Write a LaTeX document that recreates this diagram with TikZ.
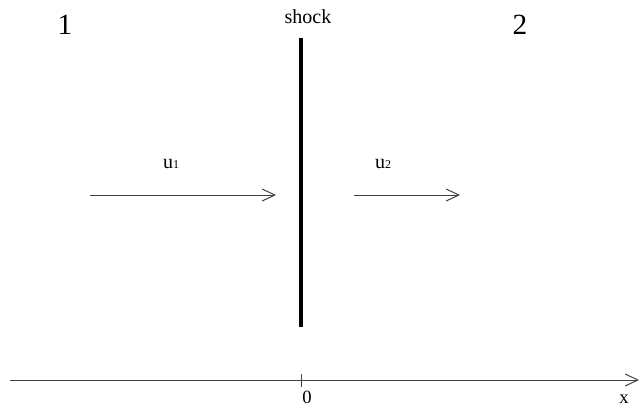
\documentclass[tikz,border=0pt]{standalone}
\usepackage{fontspec}
\setmainfont{Liberation Serif}
\usetikzlibrary{arrows.meta}

\begin{document}
\begin{tikzpicture}[
x=0.75pt, y=-0.75pt,
every node/.style={inner sep=0pt, font=\fontsize{15}{18}\selectfont},
region/.style={font=\fontsize{22}{26}\selectfont},
arrow/.style={-{Straight Barb[length=9.5pt,width=9pt]}, line width=0.75pt, draw=black!75},
shockline/.style={line width=2.3pt}
]

\useasboundingbox (0,0) rectangle (640,412);

% =====================================================
% Labels
% =====================================================

\node (left) [region] at (65,25) {1};

\node (right) [region] at (520,25) {2};

\node (shock) at (308,17) {shock};

\node (uone) at (171,164) {u{\fontsize{9}{10}\selectfont 1}};

\node (utwo) at (383,164) {u{\fontsize{9}{10}\selectfont 2}};

\node (zero) [font=\fontsize{14}{16}\selectfont] at (307,397) {0};

\node (xlabel) [font=\fontsize{14}{16}\selectfont] at (624,399) {x};

% =====================================================
% Coordinates
% =====================================================

\coordinate (shocktop) at (301,38);
\coordinate (shockbot) at (301,327);

\coordinate (aone) at (90,195);
\coordinate (bone) at (276,195);

\coordinate (atwo) at (354,195);
\coordinate (btwo) at (460,195);

\coordinate (xstart) at (10,380);
\coordinate (xend) at (639,380);

\coordinate (ticktop) at (301,374);
\coordinate (tickbot) at (301,387);

% =====================================================
% Lines
% =====================================================

\draw [shockline] (shocktop) -- (shockbot);

\draw [arrow] (aone) -- (bone);

\draw [arrow] (atwo) -- (btwo);

\draw [arrow] (xstart) -- (xend);

\draw [line width=0.75pt, draw=black!75] (ticktop) -- (tickbot);

\end{tikzpicture}
\end{document}
